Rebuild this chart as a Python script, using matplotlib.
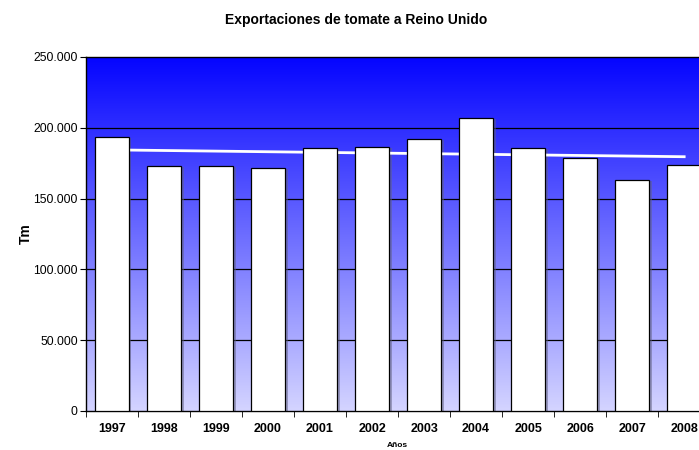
import numpy as np
import matplotlib
matplotlib.use("Agg")
import matplotlib.pyplot as plt
from matplotlib.colors import LinearSegmentedColormap

plt.rcParams['font.family'] = ['Liberation Sans', 'DejaVu Sans']

years = ['1997', '1998', '1999', '2000', '2001', '2002', '2003', '2004', '2005', '2006', '2007', '2008']
toneladas = [193400, 173000, 173000, 171800, 185700, 186400, 192000, 207000, 185800, 178800, 163100, 173700]

x = np.arange(len(years))

fig = plt.figure(figsize=(6.99, 4.5), dpi=100)
ax = fig.add_axes([0.123, 0.0867, 0.893, 0.7867])

# gradient background (blue on top, pale at bottom)
cmap = LinearSegmentedColormap.from_list('bg', ['#d4d4ff', '#0404ff'])
grad = np.linspace(0, 1, 256).reshape(-1, 1)
ax.imshow(grad, aspect='auto', cmap=cmap, origin='lower',
          extent=[-0.5, len(years) - 0.5, 0, 250000], zorder=0)

for v in [50000, 100000, 150000, 200000]:
    ax.axhline(v, color='black', lw=0.9, zorder=1)

# shadow + bars
ax.bar(x + 0.05, np.array(toneladas) - 600, width=0.65, bottom=0, color='#606080',
       alpha=0.5, zorder=2)
ax.bar(x, toneladas, width=0.65, color='white', edgecolor='black', lw=0.9, zorder=3)

# linear trend line
coef = np.polyfit(x, toneladas, 1)
ax.plot(x, np.polyval(coef, x), color='white', lw=2, zorder=2.5)

ax.set_xlim(-0.5, len(years) - 0.5)
ax.set_ylim(0, 250000)
ax.set_yticks([0, 50000, 100000, 150000, 200000, 250000])
ax.set_yticklabels(['0', '50.000', '100.000', '150.000', '200.000', '250.000'], fontsize=8.8)
ax.set_xticks(x)
ax.set_xticklabels(years, fontsize=9, fontweight='bold')
ax.set_xticks(np.arange(len(years) + 1) - 0.5, minor=True)
ax.tick_params(axis='x', which='major', length=0, pad=9)
ax.tick_params(axis='x', which='minor', length=4, direction='out')
ax.tick_params(axis='y', length=4, direction='out', pad=2)

for s in ['left', 'bottom', 'top']:
    ax.spines[s].set_color('black')
    ax.spines[s].set_linewidth(1.0)
ax.spines['right'].set_visible(False)

ax.set_ylabel('Tm', fontsize=10, fontweight='bold', labelpad=0)
fig.text(0.568, 0.003, 'Años', ha='center', va='bottom', fontsize=6, fontweight='bold')
fig.text(0.51, 0.956, 'Exportaciones de tomate a Reino Unido', ha='center', va='center',
         fontsize=10, fontweight='bold')

fig.savefig('out.png', dpi=100)
